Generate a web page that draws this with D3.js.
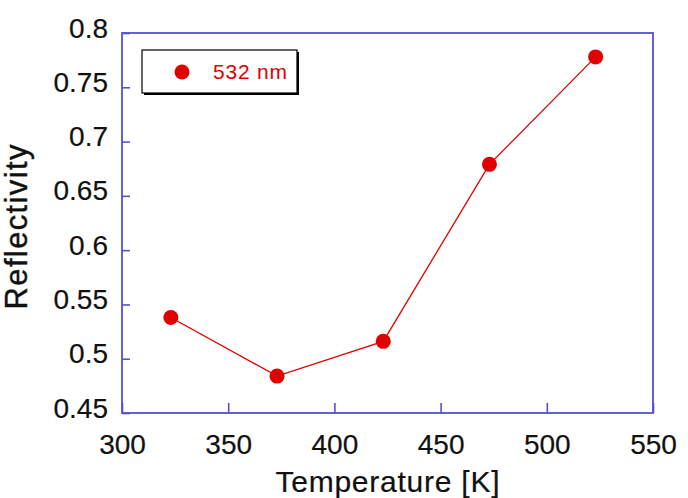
<!DOCTYPE html>
<html>
<head>
<meta charset="utf-8">
<script src="https://cdn.jsdelivr.net/npm/d3@7"></script>
<style>
body { margin: 0; background: #fff; }
text { font-family: "Liberation Sans", Arial, sans-serif; }
</style>
</head>
<body>
<svg id="chart" width="688" height="498"></svg>
<script>
// reflectivity at 532 nm vs temperature
var temps = [323, 373, 423, 473, 523];
var reflect = [0.538, 0.484, 0.516, 0.679, 0.778];
var xTicks = [300, 350, 400, 450, 500, 550];
var yTicks = [0.45, 0.5, 0.55, 0.6, 0.65, 0.7, 0.75, 0.8];
var seriesName = "532 nm";

var svg = d3.select("#chart");
var margin = {left: 122, top: 33, right: 35, bottom: 85};
var width = +svg.attr("width") - margin.left - margin.right;
var height = +svg.attr("height") - margin.top - margin.bottom;
var axisColor = "#5252d4";
var red = "#e00000";

var x = d3.scaleLinear().domain([300, 550]).range([0, width]);
var y = d3.scaleLinear().domain([0.45, 0.8]).range([height, 0]);

var g = svg.append("g").attr("transform", "translate(" + margin.left + "," + margin.top + ")");

var xAxis = g.append("g")
		.attr("transform", "translate(0," + height + ")")
		.call(d3.axisBottom(x).tickValues(xTicks).tickSizeInner(-10).tickSizeOuter(0));
xAxis.selectAll("text")
		.attr("y", 41).attr("dy", 0)
		.attr("fill", "#111").attr("font-size", 28)
		.attr("stroke", "#111").attr("stroke-width", 0.2);

var yAxis = g.append("g")
		.call(d3.axisLeft(y).tickValues(yTicks).tickSizeInner(-8).tickSizeOuter(0)
			.tickFormat(function(d) { return String(+d.toFixed(2)); }));
yAxis.selectAll("text")
		.attr("x", -14).attr("dy", 4)
		.attr("fill", "#111").attr("font-size", 28)
		.attr("stroke", "#111").attr("stroke-width", 0.2);

g.selectAll(".domain").remove();
g.selectAll(".tick line").attr("stroke", axisColor).attr("stroke-width", 1.6);

// frame
g.append("rect")
		.attr("width", width).attr("height", height)
		.attr("fill", "none").attr("stroke", axisColor).attr("stroke-width", 1.8);

var line = d3.line()
		.x(function(d, i) { return x(temps[i]); })
		.y(function(d) { return y(d); });

g.append("path")
		.datum(reflect)
		.attr("d", line)
		.attr("fill", "none")
		.attr("stroke", red)
		.attr("stroke-width", 1.3);

g.selectAll("circle.pt")
		.data(reflect)
		.enter().append("circle")
			.attr("class", "pt")
			.attr("cx", function(d, i) { return x(temps[i]); })
			.attr("cy", function(d) { return y(d); })
			.attr("r", 7.5)
			.attr("fill", red);

// legend
var leg = svg.append("g").attr("transform", "translate(142,50)");
leg.append("rect").attr("x", 2).attr("y", 2).attr("width", 155).attr("height", 43).attr("fill", "#000");
leg.append("rect").attr("width", 155).attr("height", 43).attr("fill", "#fff")
		.attr("stroke", "#000").attr("stroke-width", 1.2);
leg.append("circle").attr("cx", 40).attr("cy", 22).attr("r", 7.5).attr("fill", red);
leg.append("text").attr("x", 71).attr("y", 29)
		.attr("font-size", 21).attr("fill", red)
		.attr("textLength", 74).attr("lengthAdjust", "spacing")
		.text(seriesName);

// axis titles
svg.append("text")
		.attr("x", margin.left + width / 2).attr("y", 492)
		.attr("text-anchor", "middle").attr("font-size", 30).attr("fill", "#111")
		.attr("stroke", "#111").attr("stroke-width", 0.2)
		.attr("textLength", 224).attr("lengthAdjust", "spacing")
		.text("Temperature [K]");

svg.append("text")
		.attr("transform", "translate(27," + (margin.top + height / 2 + 4) + ") rotate(-90)")
		.attr("text-anchor", "middle").attr("font-size", 31).attr("fill", "#111")
		.attr("stroke", "#111").attr("stroke-width", 0.4)
		.attr("textLength", 165).attr("lengthAdjust", "spacing")
		.text("Reflectivity");
</script>
</body>
</html>
